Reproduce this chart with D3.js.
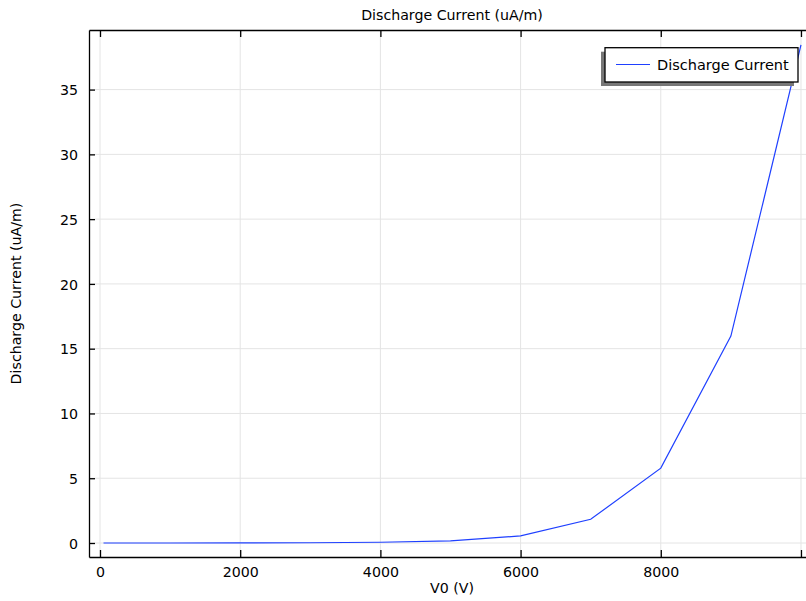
<!DOCTYPE html>
<html>
<head>
<meta charset="utf-8">
<script src="https://cdn.jsdelivr.net/npm/d3@7"></script>
<style>
  html, body { margin: 0; padding: 0; background: #fff; }
  svg { display: block; font-family: "DejaVu Sans", sans-serif; }
</style>
</head>
<body>
<svg id="chart" width="806" height="601"></svg>
<script>
const voltages = [50, 1000, 2000, 3000, 4000, 5000, 6000, 7000, 8000, 9000, 10000];
const current  = [0.0, 0.001, 0.005, 0.02, 0.06, 0.16, 0.55, 1.83, 5.78, 15.97, 38.45];
const xTicks = [0, 2000, 4000, 6000, 8000, 10000];
const xTickLabels = ["0", "2000", "4000", "6000", "8000", ""];
const yTicks = [0, 5, 10, 15, 20, 25, 30, 35];
const titleText = "Discharge Current (uA/m)";
const xLabel = "V0 (V)";
const yLabel = "Discharge Current (uA/m)";
const seriesName = "Discharge Current";

const svg = d3.select("#chart");
const L = 89, T = 30, R = 815, B = 557;

const x = d3.scaleLinear().domain([-157, 10200]).range([L, R]);
const y = d3.scaleLinear().domain([-1.08, 39.6]).range([B, T]);

svg.append("defs").append("clipPath").attr("id", "clip")
  .append("rect").attr("x", L).attr("y", T).attr("width", R - L).attr("height", B - T);

// grid
const grid = svg.append("g");
grid.selectAll(".gx").data(xTicks).join("line")
  .attr("x1", d => x(d)).attr("x2", d => x(d)).attr("y1", T).attr("y2", B)
  .attr("stroke", "#e4e4e4").attr("stroke-width", 1);
grid.selectAll(".gy").data(yTicks).join("line")
  .attr("y1", d => y(d)).attr("y2", d => y(d)).attr("x1", L).attr("x2", R)
  .attr("stroke", "#e4e4e4").attr("stroke-width", 1);

// axes
const fmt = d3.format("d");
const axB = svg.append("g").attr("transform", `translate(0,${B})`)
  .call(d3.axisBottom(x).tickValues(xTicks).tickFormat((d, i) => xTickLabels[i])
    .tickSizeInner(-7).tickSizeOuter(0).tickPadding(10));
const axT = svg.append("g").attr("transform", `translate(0,${T})`)
  .call(d3.axisTop(x).tickValues(xTicks).tickFormat("").tickSizeInner(-7).tickSizeOuter(0));
const axL = svg.append("g").attr("transform", `translate(${L},0)`)
  .call(d3.axisLeft(y).tickValues(yTicks).tickFormat(fmt).tickSizeInner(-6).tickSizeOuter(0).tickPadding(11));
const axR = svg.append("g").attr("transform", `translate(${R},0)`)
  .call(d3.axisRight(y).tickValues(yTicks).tickFormat("").tickSizeInner(-6).tickSizeOuter(0));
[axB, axT, axL, axR].forEach(a => {
  a.select(".domain").attr("stroke", "#000").attr("stroke-width", 1.3);
  a.selectAll(".tick line").attr("stroke", "#000").attr("stroke-width", 1.3);
  a.selectAll(".tick text").attr("font-size", 14.2).attr("fill", "#000")
    .attr("font-family", "DejaVu Sans, sans-serif");
});
axL.selectAll(".tick text").attr("dy", "0.36em");

// line
svg.append("path").datum(voltages.map((v, i) => [v, current[i]]))
  .attr("clip-path", "url(#clip)")
  .attr("fill", "none").attr("stroke", "#1f40ff").attr("stroke-width", 1.2)
  .attr("d", d3.line().x(d => x(d[0])).y(d => y(d[1])));

// title & labels
svg.append("text").attr("x", (L + R) / 2).attr("y", 19.5).attr("text-anchor", "middle")
  .attr("font-size", 14.2).text(titleText);
svg.append("text").attr("x", (L + R) / 2).attr("y", 593).attr("text-anchor", "middle")
  .attr("font-size", 14.2).text(xLabel);
svg.append("text").attr("transform", `translate(21,${(T + B) / 2}) rotate(-90)`)
  .attr("text-anchor", "middle").attr("font-size", 14.2).text(yLabel);

// legend
const lg = svg.append("g");
lg.append("rect").attr("x", 601).attr("y", 51.7).attr("width", 193).attr("height", 34.3).attr("fill", "#777");
lg.append("rect").attr("x", 605).attr("y", 47.7).attr("width", 193).attr("height", 34.3)
  .attr("fill", "#fff").attr("stroke", "#000").attr("stroke-width", 1.3);
lg.append("line").attr("x1", 616).attr("x2", 650).attr("y1", 64.5).attr("y2", 64.5)
  .attr("stroke", "#1f40ff").attr("stroke-width", 1.2);
lg.append("text").attr("x", 657).attr("y", 69.5).attr("font-size", 14.5).text(seriesName);
</script>
</body>
</html>
